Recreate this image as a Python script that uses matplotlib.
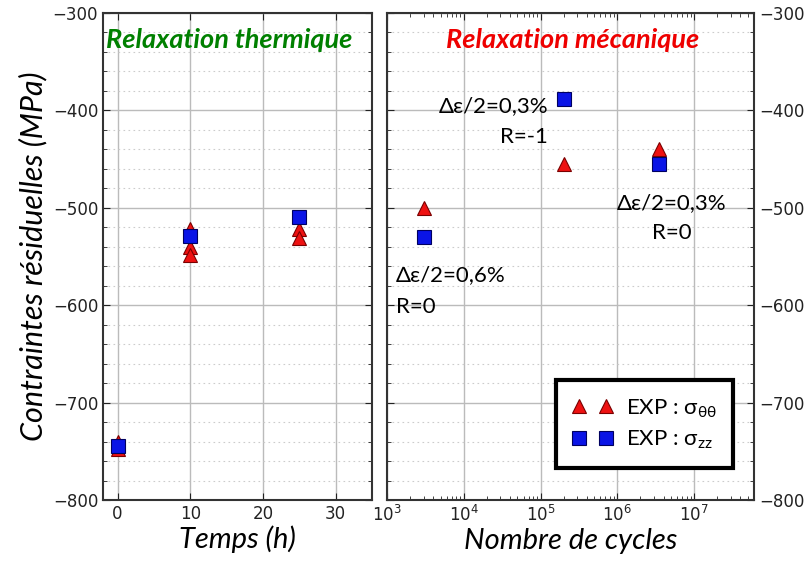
import numpy as np
import matplotlib.pyplot as plt
from matplotlib.ticker import MultipleLocator, LogLocator, NullFormatter

# thermal relaxation (time in h)
t_tri = [0, 0, 10, 10, 10, 25, 25]
s_tri_t = [-740, -748, -522, -540, -548, -522, -531]
t_sq = [0, 10, 25]
s_sq_t = [-745, -529, -509]

# mechanical relaxation (number of cycles)
n_tri = [3e3, 2e5, 3.5e6]
s_tri_m = [-500, -455, -440]
n_sq = [3e3, 2e5, 3.5e6]
s_sq_m = [-530, -388, -455]

tri_style = dict(ls='none', marker='^', ms=10, mfc='#ee1111', mec='#7a0000', mew=0.8)
sq_style = dict(ls='none', marker='s', ms=9.5, mfc='#0a14e6', mec='#000060', mew=0.8)

fig = plt.figure(figsize=(8.06, 5.63), dpi=100)
ax1 = fig.add_axes([0.1278, 0.1119, 0.3337, 0.865])
ax2 = fig.add_axes([0.4801, 0.1119, 0.4553, 0.865])

def style(ax):
    ax.set_ylim(-800, -300)
    ax.yaxis.set_major_locator(MultipleLocator(100))
    ax.yaxis.set_minor_locator(MultipleLocator(20))
    ax.grid(True, which='major', color='#bbbbbb', lw=1.0, ls='-')
    ax.grid(True, which='minor', axis='y', color='#cccccc', lw=0.8, ls=(0, (1.5, 3)))
    ax.set_axisbelow(True)
    ax.tick_params(which='both', direction='in', top=True, right=True, labelsize=12, colors='#222222')
    ax.tick_params(which='major', length=5)
    ax.tick_params(which='minor', length=3)
    for sp in ax.spines.values():
        sp.set_linewidth(1.5)
        sp.set_color('#333333')

style(ax1)
ax1.set_xlim(-2, 35)
ax1.xaxis.set_major_locator(MultipleLocator(10))
ax1.plot(t_tri, s_tri_t, **tri_style)
ax1.plot(t_sq, s_sq_t, **sq_style)
ax1.set_xlabel('Temps (h)', fontsize=21, style='italic', family='Lato', labelpad=2)
ax1.set_ylabel('Contraintes résiduelles (MPa)', fontsize=22, style='italic', family='Lato', labelpad=4)
ax1.text(0.47, 0.945, 'Relaxation thermique', transform=ax1.transAxes, ha='center', va='center',
         fontsize=19.5, color='#008000', weight='bold', style='italic', family='Lato')

style(ax2)
ax2.set_xscale('log')
ax2.set_xlim(1e3, 6e7)
ax2.xaxis.set_major_locator(LogLocator(base=10, numticks=10))
ax2.xaxis.set_minor_locator(LogLocator(base=10, subs=np.arange(2, 10), numticks=20))
ax2.xaxis.set_minor_formatter(NullFormatter())
ax2.grid(False, which='minor', axis='x')
ax2.yaxis.tick_right()
ax2.tick_params(which='both', left=True, right=True, labelleft=False, labelright=True)
ax2.plot(n_tri, s_tri_m, label=r'EXP : σ$_{\mathregular{\theta\theta}}$', **tri_style)
ax2.plot(n_sq, s_sq_m, label=r'EXP : σ$_{\mathregular{zz}}$', **sq_style)
ax2.set_xlabel('Nombre de cycles', fontsize=21, style='italic', family='Lato', labelpad=2)
ax2.text(0.507, 0.945, 'Relaxation mécanique', transform=ax2.transAxes, ha='center', va='center',
         fontsize=19.5, color='#ee0000', weight='bold', style='italic', family='Lato')

ann = dict(fontsize=16, family='Lato', color='black')
ax2.text(1.25e5, -396, 'Δε/2=0,3%', ha='right', va='center', **ann)
ax2.text(1.25e5, -427, 'R=-1', ha='right', va='center', **ann)
ax2.text(5.1e6, -495, 'Δε/2=0,3%', ha='center', va='center', **ann)
ax2.text(5.1e6, -526, 'R=0', ha='center', va='center', **ann)
ax2.text(1.3e3, -569, 'Δε/2=0,6%', ha='left', va='center', **ann)
ax2.text(1.3e3, -602, 'R=0', ha='left', va='center', **ann)

leg = ax2.legend(loc='lower right', bbox_to_anchor=(0.943, 0.066), numpoints=2,
                 prop={'family': 'Lato', 'size': 16}, fancybox=False, framealpha=1,
                 edgecolor='black', borderpad=0.75, handletextpad=0.6, labelspacing=0.4,
                 handlelength=1.8, borderaxespad=0)
leg.get_frame().set_linewidth(3)

fig.savefig('out.png', dpi=100)
